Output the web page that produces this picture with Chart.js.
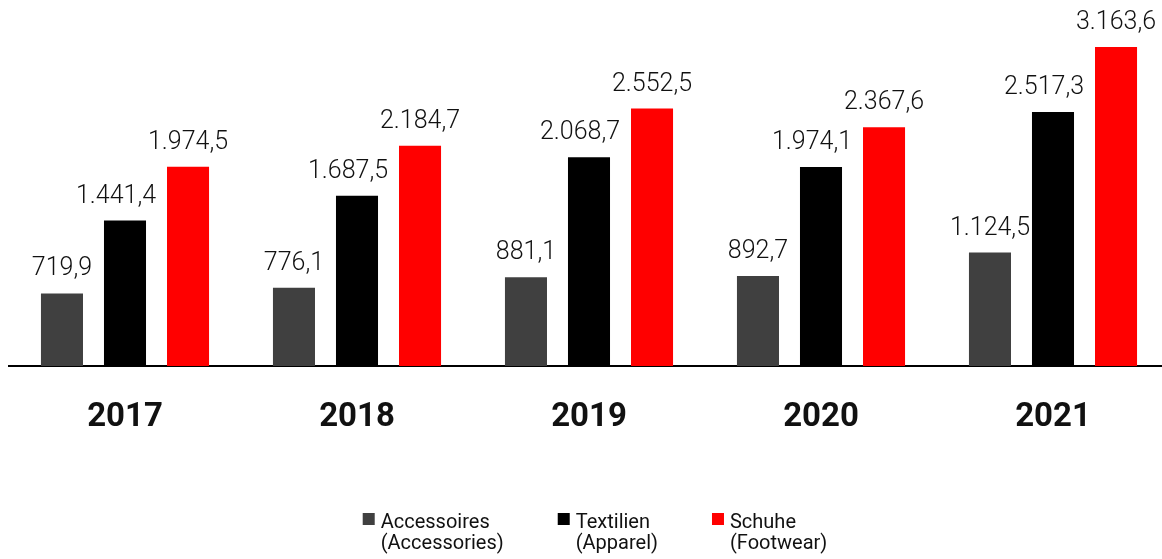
<!DOCTYPE html>
<html>
<head>
<meta charset="utf-8">
<script src="https://cdn.jsdelivr.net/npm/chart.js@4/dist/chart.umd.min.js"></script>
<style>
    html, body { margin: 0; padding: 0; background: #fff; overflow: hidden; }
    .chart-wrap { position: relative; width: 1170px; height: 559px; }
</style>
</head>
<body>
<div class="chart-wrap"><canvas id="sales-chart"></canvas></div>
<script>
// Chart values
const years = ['2017', '2018', '2019', '2020', '2021'];
const accessories = [719.9, 776.1, 881.1, 892.7, 1124.5];
const apparel = [1441.4, 1687.5, 2068.7, 1974.1, 2517.3];
const footwear = [1974.5, 2184.7, 2552.5, 2367.6, 3163.6];
const seriesLabels = [
    ['Accessoires', '(Accessories)'],
    ['Textilien', '(Apparel)'],
    ['Schuhe', '(Footwear)']
];
const seriesColors = ['#404040', '#000000', '#ff0000'];

const FONT = 'Roboto, "Liberation Sans", sans-serif';
// middle series labels sit a little to the left so they clear the red bars
const LABEL_SHIFT = [0, -9, 0];

// German number style: 1.441,4
function formatValue(v) {
    const parts = v.toFixed(1).split('.');
    const whole = parts[0].replace(/\B(?=(\d{3})+(?!\d))/g, '.');
    return whole + ',' + parts[1];
}

// Value labels above every bar
const barLabels = {
    id: 'barLabels',
    afterDatasetsDraw(chart) {
        const ctx = chart.ctx;
        ctx.save();
        ctx.font = '300 25px ' + FONT;
        ctx.fillStyle = '#111';
        ctx.textAlign = 'center';
        ctx.textBaseline = 'alphabetic';
        chart.data.datasets.forEach((ds, i) => {
            chart.getDatasetMeta(i).data.forEach((bar, j) => {
                ctx.fillText(formatValue(ds.data[j]), bar.x + LABEL_SHIFT[i], bar.y - 18);
            });
        });
        ctx.restore();
    }
};

// Legend with two-line labels, drawn below the axis
const twoLineLegend = {
    id: 'twoLineLegend',
    afterDraw(chart) {
        const ctx = chart.ctx;
        const box = 12, boxGap = 6, itemGap = 54;
        ctx.save();
        ctx.font = '20px ' + FONT;
        const widths = seriesLabels.map(lines =>
            box + boxGap + Math.max(...lines.map(t => ctx.measureText(t).width)));
        const total = widths.reduce((a, b) => a + b, 0) + itemGap * (widths.length - 1);
        let x = 595 - total / 2;
        ctx.textAlign = 'left';
        ctx.textBaseline = 'alphabetic';
        seriesLabels.forEach((lines, i) => {
            ctx.fillStyle = seriesColors[i];
            ctx.fillRect(x, 513, box, box);
            ctx.fillStyle = '#111';
            ctx.fillText(lines[0], x + box + boxGap, 528);
            ctx.fillText(lines[1], x + box + boxGap, 549);
            x += widths[i] + itemGap;
        });
        ctx.restore();
    }
};

const ctx = document.getElementById('sales-chart');
new Chart(ctx, {
    type: 'bar',
    data: {
        labels: years,
        datasets: [
            { label: seriesLabels[0].join(' '), data: accessories, backgroundColor: seriesColors[0] },
            { label: seriesLabels[1].join(' '), data: apparel, backgroundColor: seriesColors[1] },
            { label: seriesLabels[2].join(' '), data: footwear, backgroundColor: seriesColors[2] }
        ]
    },
    options: {
        responsive: true,
        maintainAspectRatio: false,
        animation: false,
        barPercentage: 0.667,
        categoryPercentage: 0.815,
        layout: { padding: { left: 9, right: 1, top: 13, bottom: 0 } },
        plugins: {
            legend: { display: false },
            tooltip: { enabled: false }
        },
        scales: {
            x: {
                grid: { display: false, drawTicks: false },
                border: { display: true, color: '#000', width: 2 },
                ticks: {
                    color: '#111',
                    padding: 32,
                    font: { family: FONT, size: 33, weight: 'bold' }
                },
                afterFit(scale) { scale.height = 193; }
            },
            y: {
                display: false,
                min: 0,
                max: 3500
            }
        }
    },
    plugins: [barLabels, twoLineLegend]
});
</script>
</body>
</html>
